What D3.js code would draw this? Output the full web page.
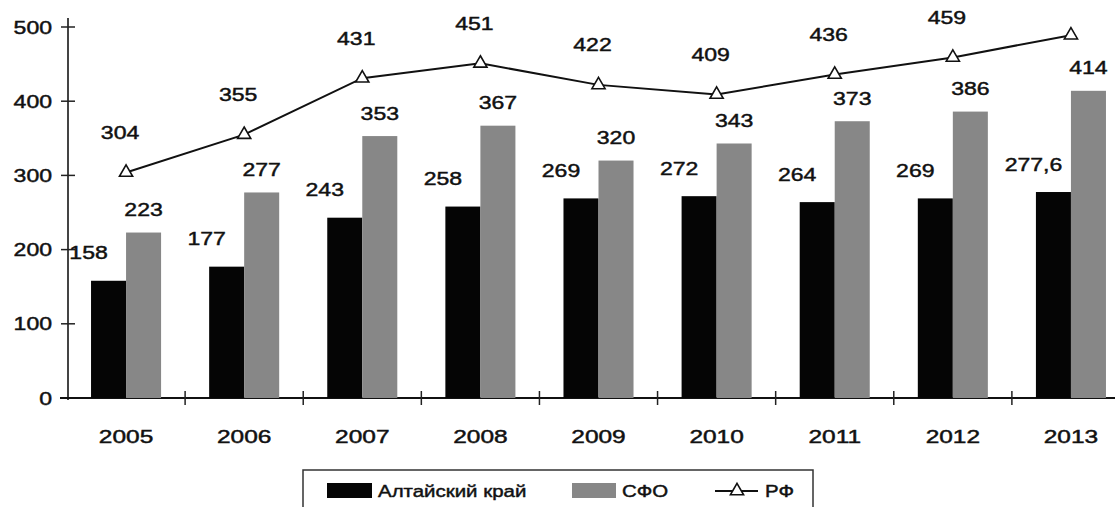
<!DOCTYPE html>
<html><head><meta charset="utf-8">
<script src="https://cdn.jsdelivr.net/npm/d3@7"></script>
<style>
html,body{margin:0;padding:0;background:#fff;}
svg{display:block;font-family:"Liberation Sans",Arial,sans-serif;}
</style></head>
<body>
<svg id="chart" width="1115" height="507"></svg>
<script>
const years = ["2005","2006","2007","2008","2009","2010","2011","2012","2013"];
const altai = [158,177,243,258,269,272,264,269,277.6];
const altaiLabels = ["158","177","243","258","269","272","264","269","277,6"];
const sfo = [223,277,353,367,320,343,373,386,414];
const sfoLabels = ["223","277","353","367","320","343","373","386","414"];
const rf = [304,355,431,451,422,409,436,459,489];
const rfLabels = ["304","355","431","451","422","409","436","459",null];
const yTicks = [0,100,200,300,400,500];
const seriesNames = ["Алтайский край","СФО","РФ"];

const svg = d3.select("#chart");
const FS = 18, SX = 1.28;
const BLACK = "#050505", GREY = "#878787";

const x = d3.scaleBand().domain(years).range([67,1130]).paddingInner(0.407).paddingOuter(0.2035);
const xs = d3.scaleBand().domain(["a","s"]).range([0,x.bandwidth()]);
const y = d3.scaleLinear().domain([0,500]).range([398,27]);
const step = x.step();

function txt(g, tx, ty, s, anchor, size, sx){
  return g.append("text")
    .attr("transform",`translate(${tx},${ty}) scale(${sx||SX},1)`)
    .attr("text-anchor",anchor||"middle")
    .attr("dominant-baseline","central")
    .attr("font-size",size||FS)
    .attr("fill","#111")
    .attr("stroke","#111").attr("stroke-width",0.45)
    .text(s);
}

// Y axis
const ga = svg.append("g");
ga.append("line").attr("x1",68).attr("x2",68).attr("y1",18).attr("y2",y(0)+2)
  .attr("stroke","#444").attr("stroke-width",2);
yTicks.forEach(t=>{
  ga.append("line").attr("x1",61).attr("x2",75).attr("y1",y(t)).attr("y2",y(t)).attr("stroke","#222").attr("stroke-width",1.5);
  txt(ga, 52, y(t), String(t), "end", 18);
});

// bars
const gb = svg.append("g");
gb.selectAll("rect.a").data(years).join("rect")
  .attr("x",d=>x(d)+xs("a")).attr("width",xs.bandwidth())
  .attr("y",(d,i)=>y(altai[i])).attr("height",(d,i)=>y(0)-y(altai[i]))
  .attr("fill",BLACK);
gb.selectAll("rect.s").data(years).join("rect")
  .attr("x",d=>x(d)+xs("s")).attr("width",xs.bandwidth())
  .attr("y",(d,i)=>y(sfo[i])).attr("height",(d,i)=>y(0)-y(sfo[i]))
  .attr("fill",GREY);

// X axis
ga.append("line").attr("x1",60).attr("x2",1130).attr("y1",y(0)).attr("y2",y(0)).attr("stroke","#111").attr("stroke-width",2);
years.forEach((yr,i)=>{
  if(i>0){
    const bx = x(yr) - (step - x.bandwidth())/2;
    ga.append("line").attr("x1",bx).attr("x2",bx).attr("y1",y(0)-7).attr("y2",y(0)+7).attr("stroke","#222").attr("stroke-width",1.5);
  }
  txt(ga, x(yr)+x.bandwidth()/2, 437, yr, "middle", 18, 1.36);
});

// bar labels
const gl = svg.append("g");
years.forEach((yr,i)=>{
  txt(gl, x(yr)+xs("a")+xs.bandwidth()/2-20, y(altai[i])-28, altaiLabels[i]);
  txt(gl, x(yr)+xs("s")+xs.bandwidth()/2, y(sfo[i])-23, sfoLabels[i]);
});

// RF line
const cx = yr => x(yr)+x.bandwidth()/2;
const line = d3.line().x((d,i)=>cx(years[i])).y(d=>y(d));
svg.append("path").datum(rf).attr("d",line).attr("fill","none").attr("stroke","#111").attr("stroke-width",2);
const tri = d3.symbol().type(d3.symbolTriangle).size(75);
svg.selectAll("path.m").data(rf).join("path")
  .attr("transform",(d,i)=>`translate(${cx(years[i])},${y(d)})`)
  .attr("d",tri).attr("fill","#fff").attr("stroke","#111").attr("stroke-width",1.6);
years.forEach((yr,i)=>{
  if(rfLabels[i]) txt(gl, cx(yr)-6, y(rf[i])-40, rfLabels[i]);
});

// legend
const lg = svg.append("g");
lg.append("rect").attr("x",303).attr("y",470).attr("width",510).attr("height",50)
  .attr("fill","#fff").attr("stroke","#333").attr("stroke-width",1.5);
lg.append("rect").attr("x",327).attr("y",483).attr("width",45).attr("height",15).attr("fill",BLACK);
txt(lg, 378, 491, seriesNames[0], "start", 16.5, 1.24);
lg.append("rect").attr("x",572).attr("y",483).attr("width",44).attr("height",15).attr("fill",GREY);
txt(lg, 622, 491, seriesNames[1], "start", 16.5, 1.24);
lg.append("line").attr("x1",715).attr("x2",758).attr("y1",491).attr("y2",491).attr("stroke","#111").attr("stroke-width",2);
lg.append("path").attr("transform","translate(737,491)").attr("d",tri).attr("fill","#fff").attr("stroke","#111").attr("stroke-width",1.6);
txt(lg, 765, 491, seriesNames[2], "start", 16.5, 1.24);
</script>
</body></html>
